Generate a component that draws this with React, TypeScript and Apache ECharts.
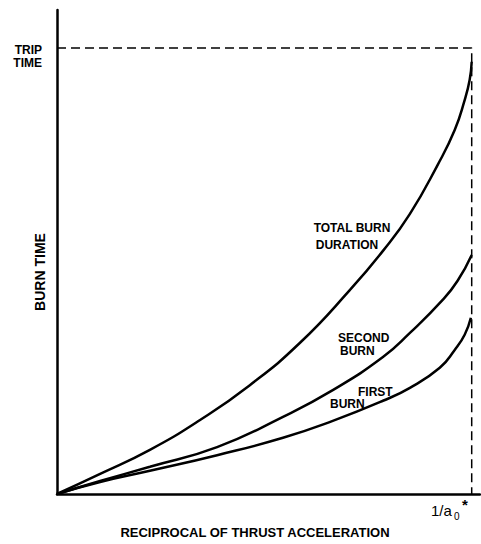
import React, { useEffect, useRef } from "react";
import * as echarts from "echarts";

// x: reciprocal of thrust acceleration, normalised so 1/a0* = 1
// y: burn time, normalised so trip time = 1
const totalBurn: [number, number][] = [
  [0, 0], [0.104, 0.045], [0.224, 0.099], [0.345, 0.166], [0.465, 0.244],
  [0.586, 0.339], [0.706, 0.457], [0.786, 0.545], [0.851, 0.628], [0.918, 0.738],
  [0.959, 0.816], [0.983, 0.883], [0.995, 0.928], [1.0, 0.969],
];
const secondBurn: [number, number][] = [
  [0, 0], [0.104, 0.029], [0.224, 0.061], [0.386, 0.105], [0.545, 0.173],
  [0.665, 0.233], [0.786, 0.307], [0.851, 0.361], [0.93, 0.435],
  [0.966, 0.478], [1.0, 0.536],
];
const firstBurn: [number, number][] = [
  [0, 0], [0.104, 0.027], [0.224, 0.052], [0.386, 0.087], [0.545, 0.126],
  [0.665, 0.164], [0.786, 0.209], [0.851, 0.238], [0.923, 0.283],
  [0.959, 0.323], [0.983, 0.357], [0.998, 0.395],
];
const tripTimeGuide: [number, number][] = [[0, 1], [1, 1], [1, 0]];

const xTitle = "RECIPROCAL OF THRUST ACCELERATION";
const yTitle = "BURN TIME";

export default function App() {
  const ref = useRef<HTMLDivElement>(null);
  useEffect(() => {
    if (!ref.current) return;
    const chart = echarts.init(ref.current, undefined, { renderer: "svg" });
    const font = '"Liberation Sans", Arial, sans-serif';
    const lab = (text: string, x: number, y: number, align: string, size = 12, extra: any = {}) => ({
      type: "text",
      x,
      y,
      ...extra,
      style: {
        text,
        fill: "#000",
        font: `bold ${size}px ${font}`,
        align,
        verticalAlign: "middle",
      },
    });
    const curve = (name: string, data: [number, number][]) => ({
      type: "line",
      name,
      data,
      smooth: 0.5,
      symbol: "none",
      lineStyle: { color: "#000", width: 2.5 },
      silent: true,
    });
    chart.setOption({
      animation: false,
      backgroundColor: "#fff",
      grid: { left: 57, right: 1, top: 10, bottom: 50 },
      xAxis: {
        type: "value",
        min: 0,
        max: 1.02,
        axisLine: { show: true, lineStyle: { color: "#000", width: 2.5 } },
        axisTick: { show: false },
        axisLabel: { show: false },
        splitLine: { show: false },
      },
      yAxis: {
        type: "value",
        min: 0,
        max: 1.085,
        axisLine: { show: true, lineStyle: { color: "#000", width: 2.5 } },
        axisTick: { show: false },
        axisLabel: { show: false },
        splitLine: { show: false },
      },
      series: [
        {
          type: "line",
          name: "guide",
          data: tripTimeGuide,
          symbol: "none",
          lineStyle: { color: "#000", width: 1.5, type: [9, 5] },
          silent: true,
        },
        curve("TOTAL BURN DURATION", totalBurn),
        curve("SECOND BURN", secondBurn),
        curve("FIRST BURN", firstBurn),
      ],
      graphic: [
        {
          type: "text",
          x: 42,
          y: 56,
          style: {
            text: "TRIP\nTIME",
            fill: "#000",
            font: `bold 12px ${font}`,
            align: "right",
            verticalAlign: "middle",
            lineHeight: 13,
          },
        },
        lab(yTitle, 40, 272, "center", 14, { rotation: Math.PI / 2 }),
        lab(xTitle, 255, 532, "center", 13),
        lab("TOTAL BURN", 352, 228, "center"),
        lab("DURATION", 347, 245, "center"),
        lab("SECOND", 338, 338, "left"),
        lab("BURN", 340, 351, "left"),
        lab("FIRST", 358, 392, "left"),
        lab("BURN", 330, 404, "left"),
        {
          type: "text",
          x: 431,
          y: 518,
          style: { text: "1/a", fill: "#000", font: `15px ${font}`, align: "left", verticalAlign: "bottom" },
        },
        {
          type: "text",
          x: 454,
          y: 516,
          style: { text: "0", fill: "#000", font: `10px ${font}`, align: "left", verticalAlign: "middle" },
        },
        {
          type: "text",
          x: 462,
          y: 504,
          style: { text: "*", fill: "#000", font: `bold 15px ${font}`, align: "left", verticalAlign: "middle" },
        },
      ],
    });
    return () => chart.dispose();
  }, []);
  return (
    <div
      ref={ref}
      style={{ position: "absolute", left: 0, top: 0, width: 481, height: 544, background: "#fff" }}
    />
  );
}
